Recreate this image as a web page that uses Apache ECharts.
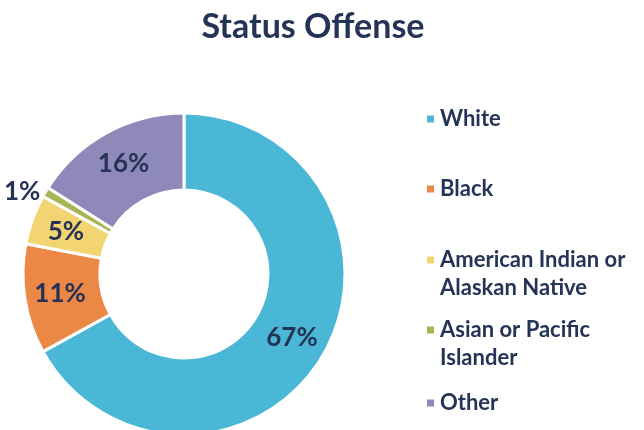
<!DOCTYPE html>
<html>
<head>
<meta charset="utf-8">
<script src="https://cdn.jsdelivr.net/npm/echarts@6/dist/echarts.min.js"></script>
<style>
  html, body { margin: 0; padding: 0; background: #fff; }
  #c { width: 644px; height: 430px; }
</style>
</head>
<body>
<div id="c"></div>
<script>
// data
var categories = ['White', 'Black', 'American Indian or Alaskan Native', 'Asian or Pacific Islander', 'Other'];
var shares = [67, 11, 5, 1, 16];
var colors = ['#4bb7d7', '#ec8845', '#f2d572', '#a8b352', '#8f89ba'];
// a leading blank line keeps the icon level with the first text line
var legendLabels = ['White', 'Black', '\nAmerican Indian or\nAlaskan Native', '\nAsian or Pacific\nIslander', 'Other'];
var legendTops = [105, 175, 218, 288, 389];

var ink = '#253356';
var font = 'Lato';

var pieData = categories.map(function (name, i) {
    var d = { name: name, value: shares[i], itemStyle: { color: colors[i] } };
    if (shares[i] < 3) {
        // tiny slice gets its label outside the ring
        d.label = { position: 'outside', distance: 0 };
        d.labelLine = { show: false, length: 0, length2: 0 };
    }
    return d;
});

var legends = categories.map(function (name, i) {
    return {
        data: [name],
        orient: 'vertical',
        left: 425,
        top: legendTops[i],
        padding: 0,
        icon: 'rect',
        itemWidth: 9,
        itemHeight: 9,
        itemGap: 0,
        selectedMode: false,
        formatter: function () { return legendLabels[i]; },
        textStyle: {
            fontFamily: font,
            fontSize: 22,
            lineHeight: 28,
            fontWeight: 'bold',
            color: ink
        }
    };
});

var myChart = echarts.init(document.getElementById('c'));
var option = {
    animation: false,
    title: {
        text: 'Status Offense',
        left: 313,
        top: 6,
        padding: 0,
        textAlign: 'center',
        textStyle: {
            fontFamily: font,
            fontSize: 34,
            lineHeight: 42,
            fontWeight: 'bold',
            color: ink
        }
    },
    legend: legends,
    series: [{
        type: 'pie',
        center: [184, 274],
        radius: [84, 161],
        startAngle: 90,
        clockwise: true,
        avoidLabelOverlap: false,
        itemStyle: { borderColor: '#fff', borderWidth: 3 },
        label: {
            show: true,
            position: 'inside',
            formatter: '{c}%',
            fontFamily: font,
            fontSize: 26,
            fontWeight: 'bold',
            color: ink
        },
        labelLine: { show: false },
        data: pieData
    }]
};
myChart.setOption(option);
</script>
</body>
</html>
